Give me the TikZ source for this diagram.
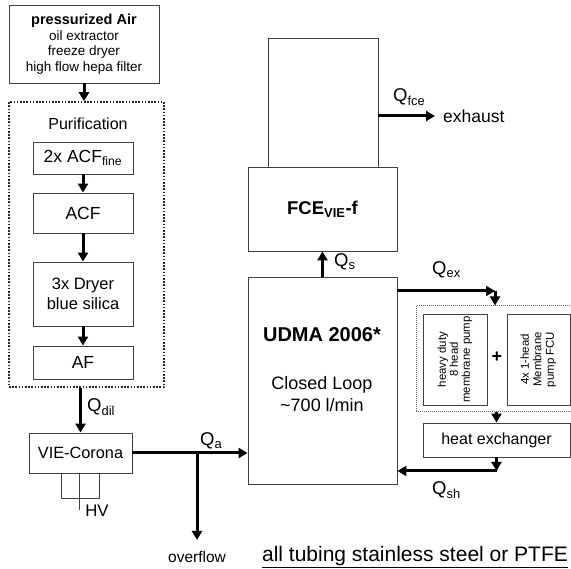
\documentclass[tikz,border=0pt]{standalone}
\usepackage{fontspec}
\setmainfont{Liberation Sans}
\usepackage{graphicx}
\usetikzlibrary{arrows.meta}
\begin{document}
\begin{tikzpicture}[x=1pt,y=-1pt,
  box/.style={draw=black!75, line width=0.9pt, inner sep=0pt, align=center},
  arr/.style={line width=3pt, -{Triangle[length=9pt,width=10pt]}},
  dotbox/.style={draw=black!85, line width=1.6pt, dash pattern=on 1.6pt off 1.6pt},
  dotboxthin/.style={draw=black!60, line width=1pt, dash pattern=on 1pt off 1pt},
  lbl/.style={inner sep=0pt, align=center},
  qlbl/.style={inner sep=0pt, anchor=west, font=\fontsize{18.5}{20}\selectfont},
  boxfont/.style={font=\fontsize{17.5}{20}\selectfont}
]
\useasboundingbox (0,0) rectangle (571,569);
\clip (0,0) rectangle (571,569);

% left column
\node[box, minimum width=150, minimum height=78, font=\fontsize{13.5}{15.5}\selectfont] (air) at (84,44)
  {{\fontsize{14.5}{16}\selectfont\bfseries pressurized Air}\\oil extractor\\freeze dryer\\high flow hepa filter};
\node[dotbox, minimum width=155, minimum height=285] (purif) at (86.5,244.5) {};
\node[lbl, font=\fontsize{16}{18}\selectfont] (purtitle) at (88,124) {Purification};
\node[box, boxfont, minimum width=100, minimum height=32] (acffine) at (83,158) {2x ACF\textsubscript{fine}};
\node[box, boxfont, minimum width=100, minimum height=40] (acf) at (83,213) {ACF};
\node[box, minimum width=100, minimum height=64, font=\fontsize{16.5}{20}\selectfont] (dryer) at (83,294) {3x Dryer\\blue silica};
\node[box, boxfont, minimum width=100, minimum height=33] (af) at (83,362.5) {AF};
\node[box, minimum width=103, minimum height=40, font=\fontsize{16.3}{18}\selectfont] (corona) at (80.5,453) {VIE-Corona};
\draw[draw=black!75, line width=0.9pt] (61,473) -- (61,498) -- (99,498) -- (99,473);
\draw[draw=black!75, line width=0.9pt] (79,473) -- (79,510);
\node[lbl, font=\fontsize{16.8}{18}\selectfont] (hv) at (97,511) {HV};

% central column
\node[box, minimum width=110, minimum height=129] (fceup) at (323,102.5) {};
\node[box, minimum width=149, minimum height=84, font=\fontsize{18.5}{20}\selectfont\bfseries] (fce) at (322.5,209) {FCE\textsubscript{VIE}-f};
\node[box, minimum width=149, minimum height=207] (udma) at (322.5,380.5) {};
\node[lbl, font=\fontsize{20}{22}\selectfont\bfseries] (udmat) at (322,335) {UDMA 2006*};
\node[lbl, font=\fontsize{18}{22}\selectfont] (udmas) at (322,394) {Closed Loop\\\textasciitilde700 l/min};

% right column
\node[dotboxthin, minimum width=159, minimum height=106] (pumps) at (495.5,359) {};
\node[box, rotate=90, minimum width=91, minimum height=64, font=\fontsize{11.4}{12}\selectfont] (pump1) at (455,359.5) {heavy duty\\8 head\\membrane pump};
\node[box, rotate=90, minimum width=91, minimum height=63, font=\fontsize{11.4}{12.5}\selectfont] (pump2) at (538.5,359.5) {4x 1-head\\Membrane\\pump FCU};
\node[lbl, font=\fontsize{18}{20}\selectfont\bfseries] (plus) at (497,357) {+};
\node[box, minimum width=147, minimum height=34, font=\fontsize{16}{18}\selectfont] (heatex) at (496.5,440) {heat exchanger};

% connectors
\draw[arr] (air.south) -- (air.south |- purif.north);
\draw[arr] (acffine.south) -- (acf.north);
\draw[arr] (acf.south) -- (dryer.north);
\draw[arr] (dryer.south) -- (af.north);
\draw[arr] (corona.north |- purif.south) -- (corona.north);
\node[qlbl] (qdil) at (87,407) {Q\textsubscript{dil}};

\draw[arr] (corona.east) -- (corona.east -| udma.west);
\coordinate (br) at (197,453);
\coordinate (ovend) at (197,540);
\draw[arr] (br) -- (ovend);
\node[lbl, font=\fontsize{15.5}{17}\selectfont] (overflow) at (197,557) {overflow};
\node[qlbl] (qa) at (200,441) {Q\textsubscript{a}};

\draw[arr] (udma.north) -- (fce.south);
\node[qlbl] (qs) at (334,262) {Q\textsubscript{s}};

\coordinate (exend) at (435,116);
\draw[arr] (fceup.east |- exend) -- (exend);
\node[qlbl] (qfce) at (393,97) {Q\textsubscript{fce}};
\node[lbl, anchor=west, font=\fontsize{17.5}{20}\selectfont] (exhaust) at (443,116) {exhaust};

\coordinate (exq) at (495,291);
\draw[arr] (udma.east |- exq) -- (exq);
\draw[arr] (exq) -- (exq |- pumps.north);
\node[qlbl] (qex) at (432,270) {Q\textsubscript{ex}};

\draw[arr] (heatex.north |- pumps.south) -- (heatex.north);
\coordinate (shq) at (497,471);
\draw[arr] (heatex.south) -- (heatex.south |- shq);
\draw[arr] (heatex.south |- shq) -- (udma.east |- shq);
\node[qlbl] (qsh) at (432,490) {Q\textsubscript{sh}};

\node[lbl, font=\fontsize{21}{24}\selectfont] (note) at (415,557) {\underline{all tubing stainless steel or PTFE}};
\end{tikzpicture}
\end{document}
